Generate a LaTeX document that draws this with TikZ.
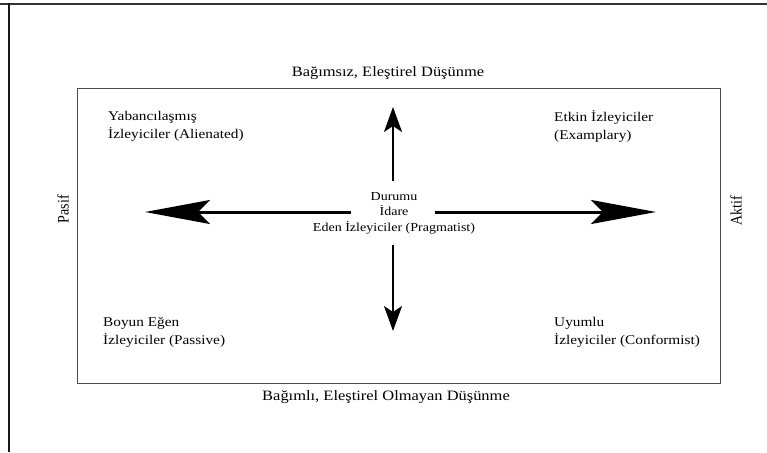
\documentclass[tikz,border=0pt]{standalone}
\usepackage{fontspec}
\setmainfont{Liberation Serif}
\usetikzlibrary{arrows.meta}
\begin{document}
\begin{tikzpicture}[x=1pt,y=-1pt,
  lbl/.style={inner sep=0pt,font=\fontsize{13.3}{18}\selectfont,align=left,anchor=west,xscale=1.15},
  axislbl/.style={inner sep=0pt,font=\fontsize{14.3}{16}\selectfont,xscale=1.15},
  sidelbl/.style={inner sep=0pt,font=\fontsize{14}{16}\selectfont,rotate=90,yscale=1.15},
  bigarrow/.style={line width=3pt,-{Stealth[length=65pt,width=24pt,inset=12pt]}},
  vertarrow/.style={line width=2pt,-{Stealth[length=25pt,width=18pt,inset=6pt]}}]
\useasboundingbox (0,0) rectangle (767,452);
\fill[white] (0,0) rectangle (767,452);
\draw[line width=2pt,black!80] (0,4) -- (767,4);
\draw[line width=2pt,black!90] (9,3) -- (9,452);
\draw[line width=1pt,black!70] (77,88) rectangle (720,383);
\node[axislbl] (top) at (388,73) {Bağımsız, Eleştirel Düşünme};
\node[axislbl] (bottom) at (386,397) {Bağımlı, Eleştirel Olmayan Düşünme};
\node[sidelbl] (pasif) at (63,209) {Pasif};
\node[sidelbl] (aktif) at (736,211) {Aktif};
\node[inner sep=0pt,align=center,font=\fontsize{12.2}{15.5}\selectfont,xscale=1.15] (center) at (394,213) {Durumu\\İdare\\Eden İzleyiciler (Pragmatist)};
\node[lbl] (q1) at (108,126) {Yabancılaşmış\\İzleyiciler (Alienated)};
\node[lbl] (q2) at (554,126) {Etkin İzleyiciler\\(Examplary)};
\node[lbl] (q3) at (103,332) {Boyun Eğen\\İzleyiciler (Passive)};
\node[lbl] (q4) at (554,332) {Uyumlu\\İzleyiciler (Conformist)};
\coordinate (ls) at (351,212);
\coordinate (le) at (145,212);
\coordinate (rs) at (435,212);
\coordinate (re) at (656,212);
\coordinate (us) at (393,181);
\coordinate (ue) at (393,107);
\coordinate (ds) at (393,245);
\coordinate (de) at (393,331);
\draw[bigarrow] (ls) -- (le);
\draw[bigarrow] (rs) -- (re);
\draw[vertarrow] (us) -- (ue);
\draw[vertarrow] (ds) -- (de);
\end{tikzpicture}
\end{document}
